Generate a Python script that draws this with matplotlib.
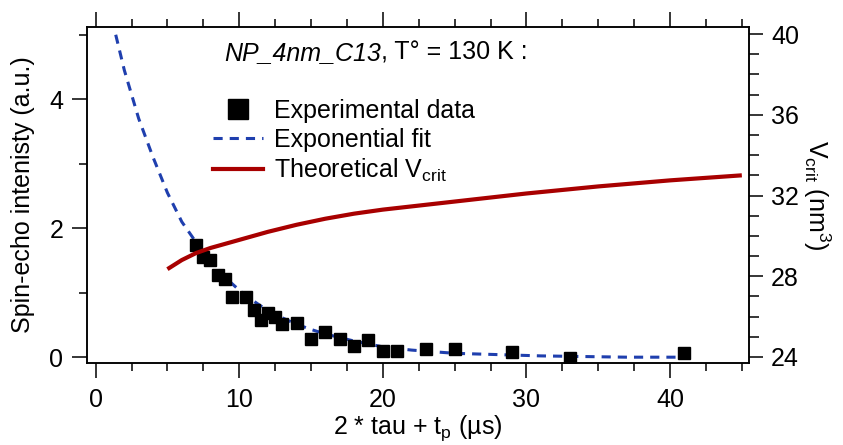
import matplotlib as mpl
# no display in the sandbox
mpl.use('Agg')
import matplotlib.pyplot as plt
from matplotlib.ticker import MultipleLocator
from matplotlib.lines import Line2D

plt.rcParams['font.family'] = ['Liberation Sans', 'DejaVu Sans']
plt.rcParams['mathtext.fontset'] = 'custom'
plt.rcParams['mathtext.rm'] = 'Liberation Sans'
plt.rcParams['mathtext.it'] = 'Liberation Sans:italic'
plt.rcParams['font.size'] = 18

# spin-echo points (left axis)
exp_x = [7, 7.5, 8, 8.5, 9, 9.5, 10.5, 11, 11.5, 12, 12.5, 13, 14, 15, 16, 17, 18, 19,
         20, 21, 23, 25, 29, 33, 41]
exp_y = [1.74, 1.55, 1.50, 1.27, 1.21, 0.93, 0.93, 0.73, 0.58, 0.68, 0.62, 0.51, 0.53,
         0.28, 0.39, 0.28, 0.17, 0.26, 0.09, 0.09, 0.12, 0.12, 0.08, -0.02, 0.06]

# exponential fit
fit_x = [1.4, 2, 3, 4, 5, 6, 7, 8, 9, 10, 11, 12, 13, 14, 15, 16, 18, 20, 22, 25, 28,
         31, 34, 37, 41]
fit_y = [5.0, 4.45, 3.7, 3.1, 2.55, 2.1, 1.78, 1.48, 1.24, 1.04, 0.87, 0.72, 0.61, 0.51,
         0.43, 0.36, 0.25, 0.16, 0.11, 0.06, 0.04, 0.02, 0.01, 0.0, 0.0]

# theoretical V_crit (right axis, nm^3)
vcrit_x = [5, 6, 7, 8, 9, 10, 12, 14, 16, 18, 20, 25, 30, 35, 40, 45]
vcrit_y = [28.35, 28.8, 29.15, 29.4, 29.6, 29.8, 30.2, 30.55, 30.85, 31.1, 31.3, 31.7,
           32.1, 32.45, 32.75, 33.0]

blue = '#1f3fae'
red = '#a80000'

fig = plt.figure(figsize=(8.43, 4.45), dpi=100)
ax = fig.add_axes([0.1032, 0.1843, 0.7853, 0.755])
ax2 = ax.twinx()

ax.plot(fit_x, fit_y, color=blue, lw=2.2, dashes=(3, 2.3), zorder=2)
ax.plot(exp_x, exp_y, ls='none', marker='s', ms=8.5, color='black', zorder=3)
ax2.plot(vcrit_x, vcrit_y, color=red, lw=3.0, solid_capstyle='butt')

ax.set_xlim(-0.6, 45.5)
ax.set_ylim(-0.09, 5.12)
ax2.set_ylim(23.7, 40.35)

ax.xaxis.set_major_locator(MultipleLocator(10))
ax.xaxis.set_minor_locator(MultipleLocator(2.5))
ax.yaxis.set_major_locator(MultipleLocator(2))
ax.yaxis.set_minor_locator(MultipleLocator(1))
ax2.yaxis.set_major_locator(MultipleLocator(4))
ax2.yaxis.set_minor_locator(MultipleLocator(1))

for a in (ax, ax2):
    for s in a.spines.values():
        s.set_linewidth(1.1)
ax.tick_params(which='both', direction='out', width=1.1, top=True, labeltop=False, pad=6)
ax.tick_params(axis='x', pad=7)
ax.tick_params(which='major', length=11)
ax.tick_params(which='minor', length=5.5)
ax2.tick_params(which='both', direction='out', width=1.1, pad=6)
ax2.tick_params(which='major', length=10)
ax2.tick_params(which='minor', length=7)

ax.set_xlabel('2 * tau + t$_\\mathrm{p}$ (µs)', labelpad=1)
ax.set_ylabel('Spin-echo intenisty (a.u.)', labelpad=10)
ax2.set_ylabel('V$_\\mathrm{crit}$ (nm$^3$)', rotation=270, labelpad=24)

# sample name in italics, then the temperature in plain text
name = ax.text(0.208, 0.923, 'NP_4nm_C13', style='italic', transform=ax.transAxes,
               ha='left', va='center')
ax.annotate(', T° = 130 K :', xy=(1, 0), xycoords=name, ha='left', va='bottom')

handles = [Line2D([], [], ls='none', marker='s', ms=8.5, color='black'),
           Line2D([], [], color=blue, lw=2.2, dashes=(3, 2.3)),
           Line2D([], [], color=red, lw=3.0)]
labels = ['Experimental data', 'Exponential fit', 'Theoretical V$_\\mathrm{crit}$']
ax2.legend(handles, labels, loc='upper left', bbox_to_anchor=(0.19, 0.785),
           frameon=False, borderpad=0, borderaxespad=0, handlelength=2.0,
           handletextpad=0.45, labelspacing=0.2, markerscale=1.7)

plt.savefig('out.png', dpi=100)
plt.close(fig)
